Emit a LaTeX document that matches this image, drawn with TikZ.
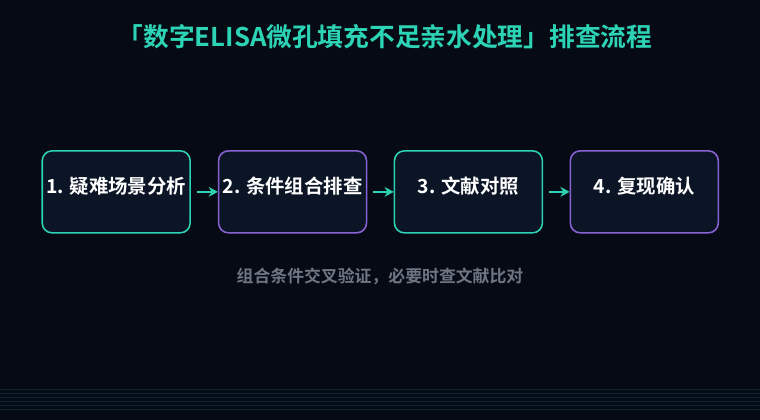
\documentclass[tikz,border=0pt]{standalone}
\usepackage{fontspec}
\setmainfont{Noto Sans CJK SC}
\newfontfamily\cjkbold{Noto Sans CJK SC Bold}
\usetikzlibrary{arrows.meta}

\definecolor{bgdark}{HTML}{050A14}
\definecolor{boxfill}{HTML}{0B1526}
\definecolor{tealline}{HTML}{2CD3B5}
\definecolor{purpleline}{HTML}{8A62D6}
\definecolor{subgray}{HTML}{6E7684}
\definecolor{gridline}{HTML}{0E2432}

\tikzset{
  stepbox/.style={draw,line width=1.1pt,fill=boxfill,rounded corners=7pt,
    minimum width=3.7cm,minimum height=2.05cm,inner sep=0pt},
  boxlabel/.style={text=white,font=\cjkbold\fontsize{13.8}{16}\selectfont,yshift=4.3pt},
  flowarrow/.style={draw=tealline,line width=1.1pt,-{Stealth[length=6.5pt,width=7pt]},shorten <=4pt}
}

\begin{document}
\begin{tikzpicture}[x=0.025cm,y=-0.025cm,every text node part/.style={align=center}]

\fill [bgdark] (0,0) rectangle (760,420);

%%%%%%%%%%%%%%%%%%%%%%%%%%%%%%%%%%%%%%

\foreach \yy in {390,394,...,410}
  \draw [gridline,line width=0.4pt] (0,\yy) -- (760,\yy);

%%%%%%%%%%%%%%%%%%%%%%%%%%%%%%%%%%%%%%

\node (title) at (385,37) [text=tealline,font=\cjkbold\fontsize{18.3}{21}\selectfont]
  {「数字ELISA微孔填充不足亲水处理」排查流程};

%%%%%%%%%%%%%%%%%%%%%%%%%%%%%%%%%%%%%%

\node [stepbox,draw=tealline] (s1) at (116,192) [label={[boxlabel]center:1. 疑难场景分析}] {};
\node [stepbox,draw=purpleline] (s2) at (292.5,192) [label={[boxlabel]center:2. 条件组合排查}] {};
\node [stepbox,draw=tealline] (s3) at (468.5,192) [label={[boxlabel]center:3. 文献对照}] {};
\node [stepbox,draw=purpleline] (s4) at (644.5,192) [label={[boxlabel]center:4. 复现确认}] {};

\draw [flowarrow] (s1) -- (s2);
\draw [flowarrow] (s2) -- (s3);
\draw [flowarrow] (s3) -- (s4);

%%%%%%%%%%%%%%%%%%%%%%%%%%%%%%%%%%%%%%

\node (note) at (380,277) [text=subgray,font=\cjkbold\fontsize{12}{14}\selectfont]
  {组合条件交叉验证，必要时查文献比对};

\end{tikzpicture}
\end{document}
